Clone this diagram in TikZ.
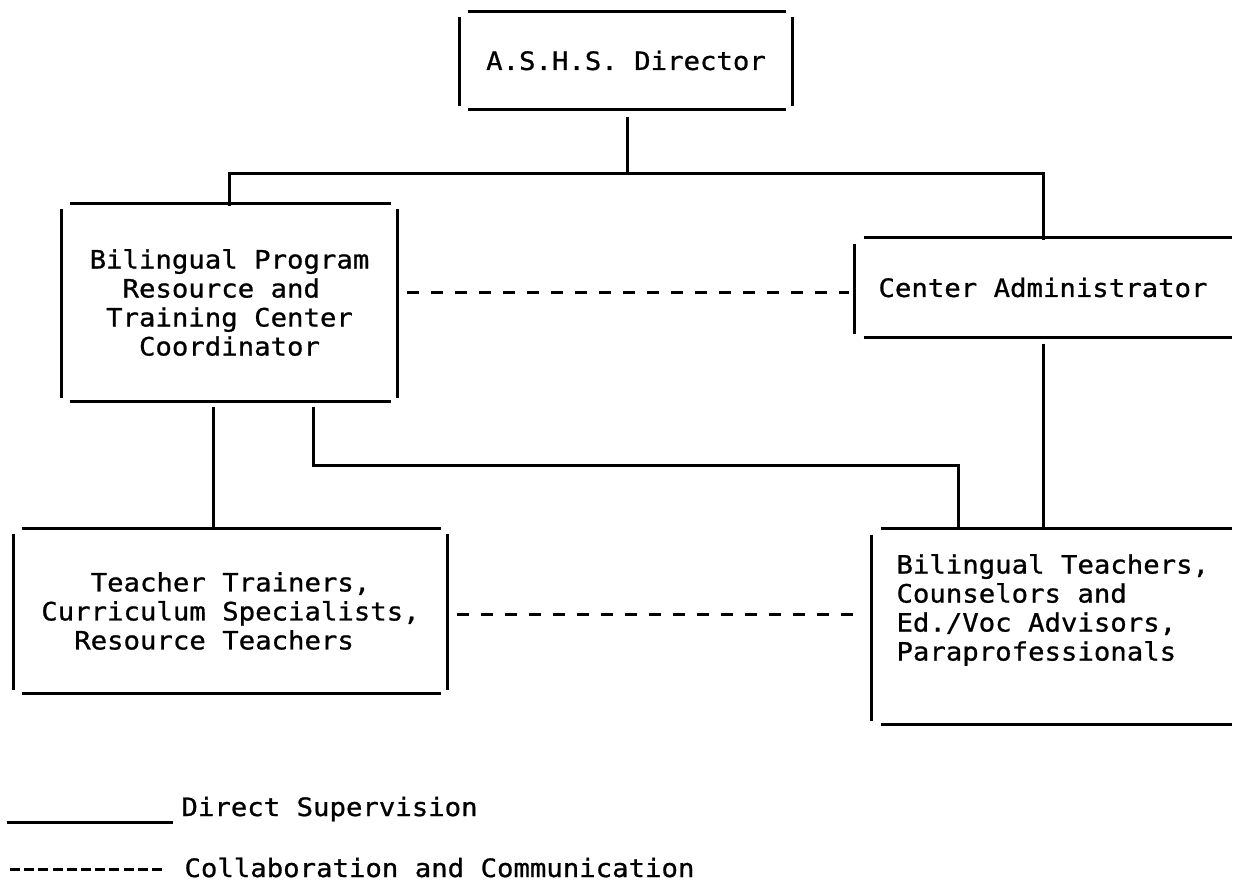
\documentclass[tikz,border=0pt]{standalone}
\usepackage{fontspec}
\newfontfamily\monofam[FakeStretch=1.08,FakeBold=0.9]{DejaVu Sans Mono}
\usetikzlibrary{calc}
\newcommand\fullframe[1]{%
  \draw ([xshift=8pt]#1.north west) -- ([xshift=-7pt]#1.north east);
  \draw ([xshift=8pt]#1.south west) -- ([xshift=-7pt]#1.south east);
  \draw ([yshift=-5pt]#1.north west) -- ([yshift=4pt]#1.south west);
  \draw ([yshift=-5pt]#1.north east) -- ([yshift=4pt]#1.south east);}
\newcommand\openframe[1]{%
  \draw ([xshift=9pt]#1.north west) -- (#1.north east);
  \draw ([xshift=9pt]#1.south west) -- (#1.south east);
  \draw ([yshift=-6pt]#1.north west) -- ([yshift=4pt]#1.south west);}
\begin{document}
\begin{tikzpicture}[x=1pt,y=-1pt,line width=3pt,
  every node/.style={font=\monofam\fontsize{25.3}{29}\selectfont},
  frame/.style={draw=none,inner sep=0pt,align=center},
  collab/.style={dash pattern=on 12pt off 12pt},
  legdash/.style={dash pattern=on 10pt off 4.2pt}]
\useasboundingbox (0,0) rectangle (1233,884);
% boxes
\node[frame,minimum width=330pt,minimum height=95pt] (dir) at (626,60.5) {A.S.H.S. Director};
\node[frame,minimum width=333pt,minimum height=195pt,align=left] (coord) at (229.5,302.5)
  {Bilingual Program\\\hphantom{00}Resource and\\\hphantom{0}Training Center\\\hphantom{000}Coordinator};
\node[frame,minimum width=374pt,minimum height=97pt] (admin) at (1043,287.5) {Center Administrator};
\node[frame,minimum width=431pt,minimum height=162pt,align=left] (tt) at (230.5,611)
  {\hphantom{000}Teacher Trainers,\\Curriculum Specialists,\\\hphantom{00}Resource Teachers};
\node[frame,minimum width=357pt,minimum height=193pt] (bt) at (1051.5,626.5) {};
\node[anchor=west,align=left,inner sep=0pt] (bttext) at (895,610)
  {Bilingual Teachers,\\Counselors and\\Ed./Voc Advisors,\\Paraprofessionals};
\fullframe{dir}
\fullframe{coord}
\openframe{admin}
\fullframe{tt}
\openframe{bt}
% supervision lines
\coordinate (j) at (627,173);
\draw ([yshift=-7pt]dir.south -| j) -- (j);
\draw ([yshift=-2pt]coord.north) |- (j) -| ([yshift=-2pt]admin.north);
\coordinate (x213) at (213,0);
\draw ([yshift=-5pt]coord.south -| x213) -- (tt.north -| x213);
\coordinate (k1) at (313,465);
\coordinate (k2) at (958,465);
\draw ([yshift=-5pt]coord.south -| k1) -- (k1) -- (k2) -- (bt.north -| k2);
\draw ([yshift=-6pt]admin.south) -- (bt.north -| admin.south);
% collaboration lines
\coordinate (d1) at (0,292);
\draw[collab,shorten <=9pt,shorten >=6pt] (coord.east |- d1) -- (admin.west |- d1);
\coordinate (d2) at (0,614);
\draw[collab,shorten <=9pt,shorten >=10pt] (tt.east |- d2) -- (bt.west |- d2);
% legend
\coordinate (l1a) at (7,822);
\coordinate (l1b) at (173,822);
\draw (l1a) -- (l1b);
\node[anchor=base west,inner sep=0pt] (leg1) at (180,816) {Direct Supervision};
\coordinate (l2a) at (10,869);
\coordinate (l2b) at (165,869);
\draw[legdash] (l2a) -- (l2b);
\node[anchor=base west,inner sep=0pt] (leg2) at (183,877) {Collaboration and Communication};
\end{tikzpicture}
\end{document}
